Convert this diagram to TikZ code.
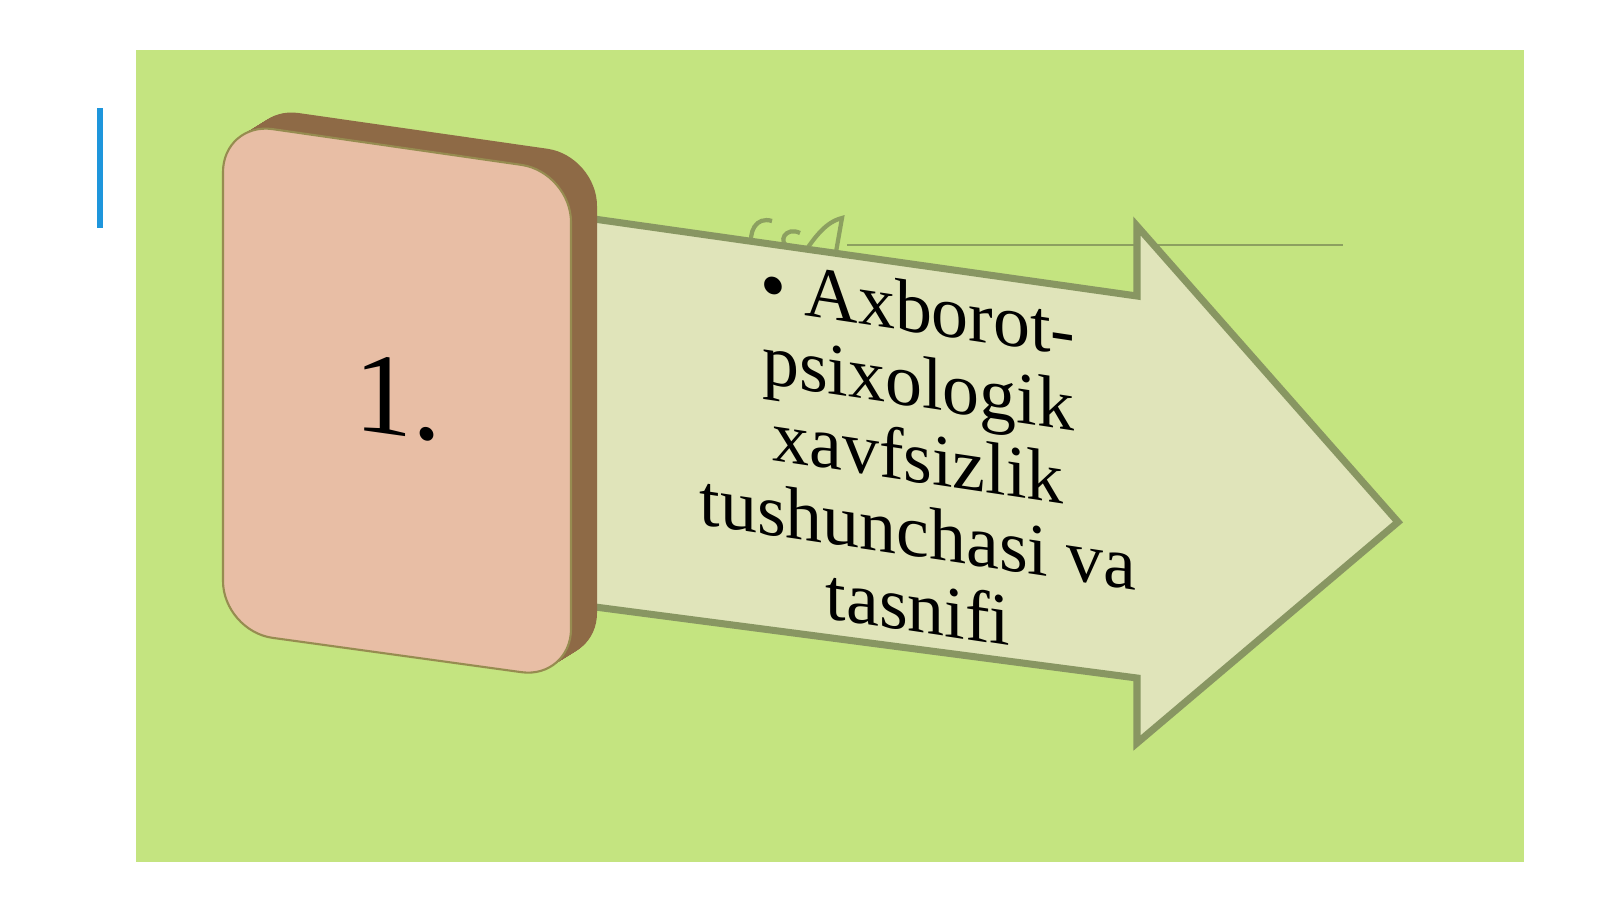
\documentclass[tikz,border=0pt]{standalone}
\usepackage{fontspec}
\setmainfont{Liberation Serif}
\usepackage{tikz}
\usetikzlibrary{calc}

\definecolor{hgruen}{RGB}{196,228,128}
\definecolor{pfeilfill}{RGB}{224,228,186}
\definecolor{pfeilrand}{RGB}{136,150,98}
\definecolor{kastenfill}{RGB}{232,190,165}
\definecolor{kastenrand}{RGB}{150,140,80}
\definecolor{kastenbraun}{RGB}{142,106,70}
\definecolor{zierfarbe}{RGB}{140,160,96}
\definecolor{blau}{RGB}{30,150,220}

\begin{document}
\begin{tikzpicture}[x=0.01cm, y=-0.01cm,
	pfeil/.style={draw=pfeilrand, fill=pfeilfill, line width=2pt, line join=miter},
	kasten/.style={draw=kastenrand, fill=kastenfill, line width=0.6pt, rounded corners=0.5cm},
	tiefe/.style={fill=kastenbraun, rounded corners=0.5cm},
	zier/.style={draw=zierfarbe, line width=1.2pt},
	schrift/.style={font=\fontsize{21}{21.3}\selectfont, align=center, inner sep=0pt, transform shape}]
		\useasboundingbox (0,0) rectangle (1600,899);
		
		% Hintergrund
		\fill[white] (0,0) rectangle (1600,899);
		\fill[hgruen] (136,50) rectangle (1524,862);
		\draw[blau, line width=0.06cm] (100,108) -- (100,228);
		
		% Zierlinie
		\draw[zier, line width=0.6pt] (847,245) -- (1343,245);
		\draw[zier] (772,221) .. controls (756,216) and (748,232) .. (752,248);
		\draw[zier] (800,233) .. controls (786,226) and (776,242) .. (790,248);
		\draw[zier] (806,250) .. controls (816,236) and (826,222) .. (842,218) -- (836,252);
		
		% Pfeil
		\draw[pfeil] (580,217) -- (1137,296) -- (1137,226) -- (1398,522) -- (1137,743) -- (1137,678) -- (580,605) -- cycle;
		
		% Kasten
		\foreach \d in {26,25,...,1}
		\fill[tiefe, shift={(\d,-0.62*\d)}] (223,400) -- (223,122) -- (571,172) -- (571,679) -- (223,631) -- cycle;
		\draw[kasten] (223,400) -- (223,122) -- (571,172) -- (571,679) -- (223,631) -- cycle;
		
		% Beschriftungen
		\node[schrift, font=\fontsize{33}{33}\selectfont, shift={(398,398)}, yslant=-0.14] (nummer) {1.};
		\node[schrift, shift={(918,457)}, yslant=-0.15] (begriff) {\textbullet\ Axborot-\\psixologik\\xavfsizlik\\tushunchasi va\\tasnifi};
	\end{tikzpicture}
\end{document}
